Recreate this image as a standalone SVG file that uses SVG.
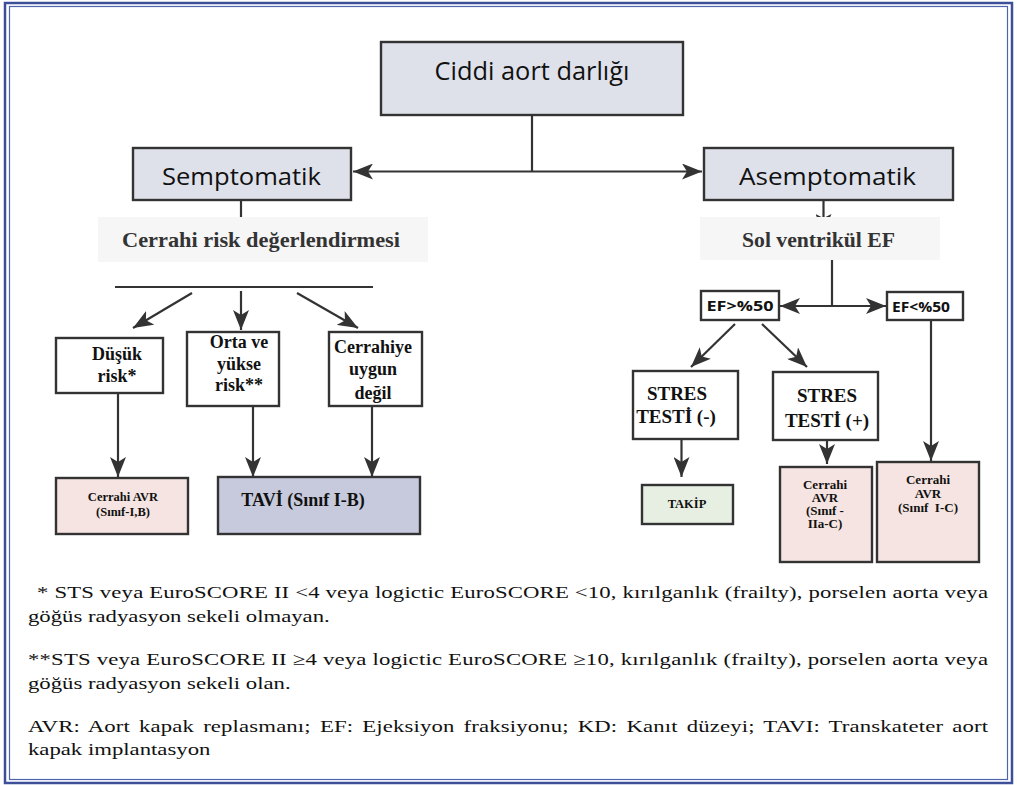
<svg xmlns="http://www.w3.org/2000/svg" width="1017" height="785" viewBox="0 0 1017 785">
<style>
.box{stroke:#333;stroke-width:2.4}
.top{fill:#dfe1ea}
.w{fill:#fff}
.pink{fill:#f5e4e1}
.lav{fill:#c7cadd}
.grn{fill:#e6efe2}
.lbl{fill:#f6f6f6}
.sans{font-family:"Open Sans","Liberation Sans",sans-serif;fill:#111}
.ser{font-family:"Liberation Serif","Times New Roman",serif;font-weight:bold;fill:#111;text-anchor:middle}
.lab{font-family:"Liberation Serif","Times New Roman",serif;font-weight:bold;fill:#333;text-anchor:middle;font-size:21px}
.fn{font-family:"Liberation Serif","Times New Roman",serif;font-size:17.5px;fill:#111}
.c{stroke:#333;stroke-width:2.2;fill:none}
</style>
<defs>
<marker id="ah" viewBox="0 0 20 16" refX="20" refY="8" markerWidth="20" markerHeight="16" markerUnits="userSpaceOnUse" orient="auto-start-reverse">
<path d="M0,0 L20,8 L0,16 L5,8 z" fill="#333"/>
</marker>
<marker id="ahs" viewBox="0 0 18 16" refX="18" refY="8" markerWidth="18" markerHeight="16" markerUnits="userSpaceOnUse" orient="auto-start-reverse">
<path d="M0,0 L18,8 L0,16 L4,8 z" fill="#333"/>
</marker>
</defs>
<rect x="0" y="0" width="1017" height="785" fill="#fff"/>
<g id="frame" fill="none">
<rect x="5" y="3" width="1007" height="780" stroke="#3e4f9a" stroke-width="2.5"/>
<rect x="9.5" y="6.5" width="998" height="773" stroke="#5064ad" stroke-width="1.2"/>
</g>
<g id="connectors">
<path class="c" d="M532,115 V171.5"/>
<path class="c" d="M353,171.5 H702" stroke-width="2.6" marker-start="url(#ah)" marker-end="url(#ah)"/>
<path class="c" d="M241,200 V218"/>
<path class="c" d="M823.5,200 V232" marker-end="url(#ahs)"/>
<path class="c" d="M115,287 H373"/>
<path class="c" d="M192,293 L133,328" marker-end="url(#ah)"/>
<path class="c" d="M241,291 V330" marker-end="url(#ah)"/>
<path class="c" d="M297,293 L358,328" marker-end="url(#ah)"/>
<path class="c" d="M118,393 V477" marker-end="url(#ah)"/>
<path class="c" d="M253,406 V477" marker-end="url(#ah)"/>
<path class="c" d="M372,406 V477" marker-end="url(#ah)"/>
<path class="c" d="M832,260 V306"/>
<path class="c" d="M780,306 H886" stroke-width="2.6" marker-start="url(#ah)" marker-end="url(#ah)"/>
<path class="c" d="M735,324 L691,367" marker-end="url(#ah)"/>
<path class="c" d="M762,324 L807,367" marker-end="url(#ah)"/>
<path class="c" d="M681.5,439 V477" marker-end="url(#ah)"/>
<path class="c" d="M827,440 V464" marker-end="url(#ah)"/>
<path class="c" d="M931,320 V461" marker-end="url(#ah)"/>
</g>
<g id="n-ciddi">
<rect class="box top" x="381" y="42" width="302" height="73"/>
<text class="sans" x="532" y="80" font-size="26" text-anchor="middle" textLength="195" lengthAdjust="spacingAndGlyphs">Ciddi aort darlığı</text>
</g>
<g id="n-semptomatik">
<rect class="box top" x="133" y="148" width="218" height="52"/>
<text class="sans" x="241.5" y="185" font-size="23" text-anchor="middle" textLength="159" lengthAdjust="spacingAndGlyphs">Semptomatik</text>
</g>
<g id="n-asemptomatik">
<rect class="box top" x="704" y="148" width="249" height="52"/>
<text class="sans" x="827.5" y="185" font-size="23" text-anchor="middle" textLength="177" lengthAdjust="spacingAndGlyphs">Asemptomatik</text>
</g>
<g id="n-cerrahi-risk">
<rect class="lbl" x="98" y="217" width="330" height="45"/>
<text class="lab" x="261" y="247" textLength="278" lengthAdjust="spacingAndGlyphs">Cerrahi risk değerlendirmesi</text>
</g>
<g id="n-sol-ef">
<rect class="lbl" x="700" y="217" width="240" height="43"/>
<text class="lab" x="818.5" y="247" textLength="153" lengthAdjust="spacingAndGlyphs">Sol ventrikül EF</text>
</g>
<g id="n-dusuk">
<rect class="box w" x="56" y="338" width="107" height="55"/>
<text class="ser" font-size="18" x="117" y="360">Düşük</text>
<text class="ser" font-size="18" x="117" y="382">risk*</text>
</g>
<g id="n-orta">
<rect class="box w" x="187" y="332" width="92" height="74"/>
<text class="ser" font-size="18" x="239" y="348">Orta ve</text>
<text class="ser" font-size="18" x="239" y="370">yükse</text>
<text class="ser" font-size="18" x="239" y="391">risk**</text>
</g>
<g id="n-uygun-degil">
<rect class="box w" x="329" y="332" width="93" height="74"/>
<text class="ser" font-size="18" x="373" y="353">Cerrahiye</text>
<text class="ser" font-size="18" x="373" y="375">uygun</text>
<text class="ser" font-size="18" x="373" y="399">değil</text>
</g>
<g id="n-avr-1b">
<rect class="box pink" x="56" y="478" width="132" height="56"/>
<text class="ser" font-size="12.5" x="123" y="501">Cerrahi AVR</text>
<text class="ser" font-size="12.5" x="123" y="516">(Sınıf-I,B)</text>
</g>
<g id="n-tavi">
<rect class="box lav" x="218" y="477" width="202" height="57"/>
<text class="ser" font-size="18" x="303" y="506">TAVİ (Sınıf I-B)</text>
</g>
<g id="n-ef-gt">
<rect class="box w" x="701" y="291" width="78" height="29"/>
<text class="sans" font-weight="bold" x="740" y="311" font-size="15" text-anchor="middle" textLength="67" lengthAdjust="spacingAndGlyphs">EF&gt;%50</text>
</g>
<g id="n-ef-lt">
<rect class="box w" x="887" y="292" width="76" height="28"/>
<text class="sans" font-weight="bold" x="921" y="312" font-size="14" text-anchor="middle" textLength="58" lengthAdjust="spacingAndGlyphs">EF&lt;%50</text>
</g>
<g id="n-stres-neg">
<rect class="box w" x="633" y="371" width="105" height="68"/>
<text class="ser" font-size="19" x="677" y="400">STRES</text>
<text class="ser" font-size="19" x="676" y="423">TESTİ (-)</text>
</g>
<g id="n-stres-pos">
<rect class="box w" x="773" y="372" width="105" height="68"/>
<text class="ser" font-size="19" x="827" y="402">STRES</text>
<text class="ser" font-size="19" x="827" y="427">TESTİ (+)</text>
</g>
<g id="n-takip">
<rect class="box grn" x="642" y="485" width="91" height="39"/>
<text class="ser" font-size="12.5" x="687" y="508">TAKİP</text>
</g>
<g id="n-avr-2a">
<rect class="box pink" x="780" y="467" width="92" height="95"/>
<text class="ser" font-size="13" x="825" y="489">Cerrahi</text>
<text class="ser" font-size="13" x="825" y="502">AVR</text>
<text class="ser" font-size="13" x="825" y="515">(Sınıf -</text>
<text class="ser" font-size="13" x="825" y="528">IIa-C)</text>
</g>
<g id="n-avr-1c">
<rect class="box pink" x="877" y="462" width="102" height="100"/>
<text class="ser" font-size="13" x="928" y="484">Cerrahi</text>
<text class="ser" font-size="13" x="928" y="498">AVR</text>
<text class="ser" font-size="13" x="928" y="512" xml:space="preserve">(Sınıf  I-C)</text>
</g>
<g id="footnotes" class="fn" transform="scale(1.3,1)">
<text x="28.5" y="598" textLength="731.5" lengthAdjust="spacing">* STS veya EuroSCORE II &lt;4 veya logictic EuroSCORE &lt;10, kırılganlık (frailty), porselen aorta veya</text>
<text x="21.5" y="622">göğüs radyasyon sekeli olmayan.</text>
<text x="21.5" y="665" textLength="738.5" lengthAdjust="spacing">**STS veya EuroSCORE II ≥4 veya logictic EuroSCORE ≥10, kırılganlık (frailty), porselen aorta veya</text>
<text x="21.5" y="689">göğüs radyasyon sekeli olan.</text>
<text x="21.5" y="732" word-spacing="2.5" textLength="738.5" lengthAdjust="spacing">AVR: Aort kapak replasmanı; EF: Ejeksiyon fraksiyonu; KD: Kanıt düzeyi; TAVI: Transkateter aort</text>
<text x="21.5" y="755">kapak implantasyon</text>
</g>
</svg>
